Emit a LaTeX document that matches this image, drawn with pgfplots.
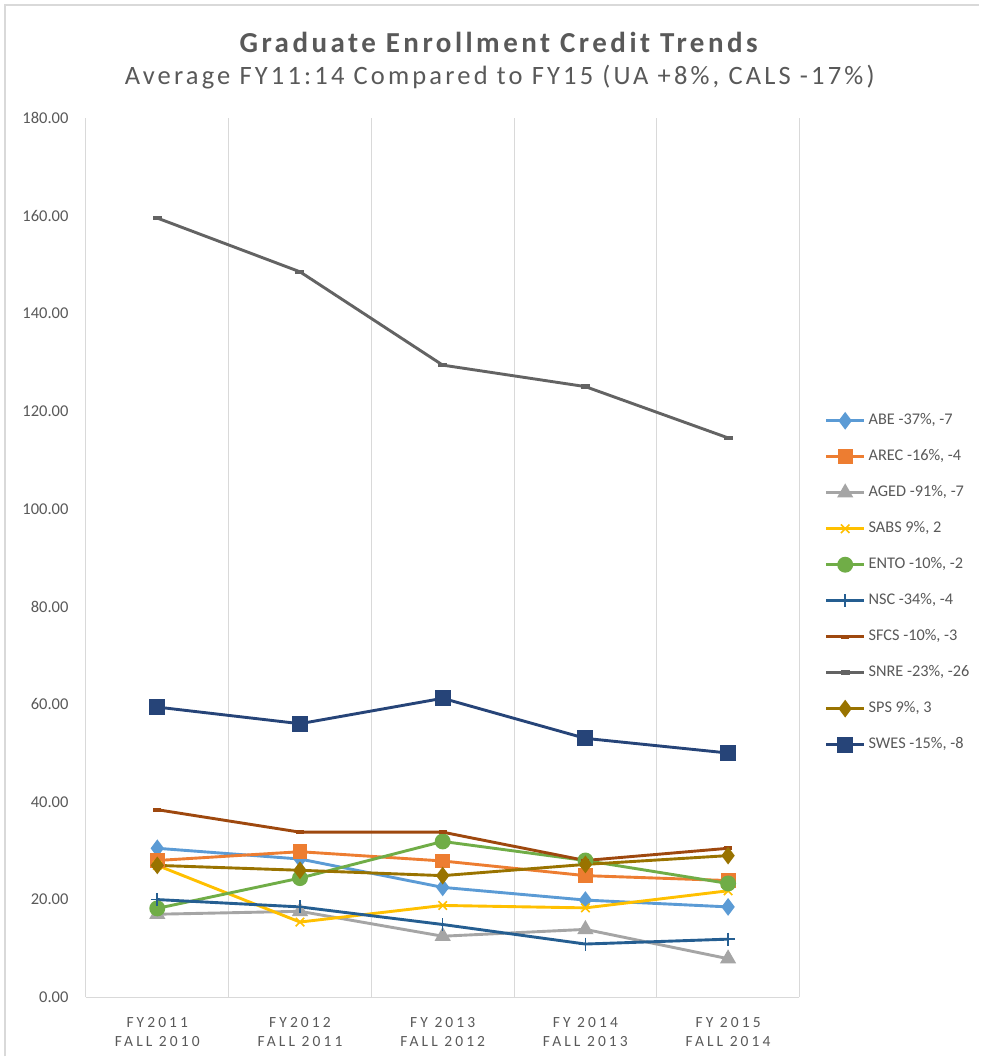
\documentclass[border=0pt]{standalone}
\usepackage{fontspec}
\setmainfont{Carlito}
\newfontfamily\spacedfont[LetterSpace=20]{Carlito}
\newfontfamily\titlefont[LetterSpace=12]{Carlito}
\usepackage{pgfplots}
\pgfplotsset{compat=1.18}

\definecolor{txtgray}{HTML}{595959}
\definecolor{gridgray}{HTML}{D9D9D9}
\definecolor{cABE}{HTML}{5B9BD5}
\definecolor{cAREC}{HTML}{ED7D31}
\definecolor{cAGED}{HTML}{A5A5A5}
\definecolor{cSABS}{HTML}{FFC000}
\definecolor{cENTO}{HTML}{70AD47}
\definecolor{cNSC}{HTML}{255E91}
\definecolor{cSFCS}{HTML}{9E480E}
\definecolor{cSNRE}{HTML}{636363}
\definecolor{cSPS}{HTML}{997300}
\definecolor{cSWES}{HTML}{264478}

\begin{document}
\begin{tikzpicture}[x=1pt,y=1pt]
\fill[white] (0,0) rectangle (980,1057);
\draw[gridgray, line width=1.5pt] (5,0) -- (5,1052) -- (980,1052);
\node[font=\fontsize{29}{33}\selectfont\bfseries\titlefont, text=txtgray] at (499,1015) {Graduate Enrollment Credit Trends};
\node[font=\fontsize{26.5}{30}\selectfont\titlefont, text=txtgray] at (500,980) {Average FY11:14 Compared to FY15 (UA +8\%, CALS -17\%)};
\begin{axis}[
    at={(86pt,59pt)}, anchor=south west,
    scale only axis, width=714pt, height=880pt,
    xmin=-0.5, xmax=4.5, ymin=0, ymax=180,
    xtick={0,1,2,3,4},
    xticklabels={{FY2011\\FALL 2010},{FY2012\\FALL 2011},{FY 2013\\FALL 2012},{FY 2014\\FALL 2013},{FY 2015\\FALL 2014}},
    xticklabel style={align=center, font=\fontsize{15.5}{19}\selectfont\spacedfont, text=txtgray},
    ytick={0,20,...,180},
    yticklabel style={font=\fontsize{16.5}{19}\selectfont, text=txtgray},
    /pgf/number format/assume math mode=true,
    /pgf/number format/.cd, fixed, zerofill, precision=2, /pgfplots/.cd,
    major tick length=0pt, minor tick length=0pt,
    minor xtick={0.5,1.5,2.5,3.5,4.5},
    xminorgrids, minor grid style={gridgray, line width=1pt},
    axis x line*=bottom, axis y line*=left,
    axis line style={gridgray, line width=1pt, -},
    xticklabel shift=17pt, yticklabel shift=14pt,
    clip=false,
    every axis plot/.append style={line width=2.9pt, mark options={solid}},
    legend style={at={(1.031,0.666)}, anchor=north west, draw=none, fill=none,
        font=\fontsize{16.3}{19}\selectfont, text=txtgray,
        nodes={inner sep=0pt, text height=11pt, text depth=3pt},
        row sep=22pt, column sep=3pt},
    legend cell align=left,
    legend image code/.code={\draw[mark repeat=2,mark phase=2,#1] plot coordinates {(0pt,0pt) (19pt,0pt) (38pt,0pt)};},
]
\addplot[cABE, mark=diamond*, mark size=6.5pt] coordinates {(0,30.5) (1,28.3) (2,22.5) (3,19.9) (4,18.5)};
\addlegendentry{ABE -37\%, -7}
\addplot[cAREC, mark=square*, mark size=6pt] coordinates {(0,28.0) (1,29.8) (2,27.9) (3,24.9) (4,23.9)};
\addlegendentry{AREC -16\%, -4}
\addplot[cAGED, mark=triangle*, mark size=6.5pt] coordinates {(0,17.0) (1,17.6) (2,12.5) (3,13.9) (4,7.9)};
\addlegendentry{AGED -91\%, -7}
\addplot[cSABS, mark=x, mark size=6pt, mark options={line width=1.6pt}] coordinates {(0,27.0) (1,15.4) (2,18.8) (3,18.3) (4,21.8)};
\addlegendentry{SABS 9\%, 2}
\addplot[cENTO, mark=*, mark size=6.5pt] coordinates {(0,18.2) (1,24.4) (2,31.9) (3,28.0) (4,23.3)};
\addlegendentry{ENTO -10\%, -2}
\addplot[cNSC, mark=+, mark size=6.5pt, mark options={line width=1.6pt}] coordinates {(0,20.0) (1,18.5) (2,14.9) (3,10.9) (4,11.9)};
\addlegendentry{NSC -34\%, -4}
\addplot[cSFCS, mark=-, mark size=4pt, mark options={line width=4pt}] coordinates {(0,38.4) (1,33.8) (2,33.8) (3,28.0) (4,30.5)};
\addlegendentry{SFCS -10\%, -3}
\addplot[cSNRE, mark=-, mark size=4.5pt, mark options={line width=4.5pt}] coordinates {(0,159.5) (1,148.5) (2,129.4) (3,125.0) (4,114.5)};
\addlegendentry{SNRE -23\%, -26}
\addplot[cSPS, mark=diamond*, mark size=6.5pt] coordinates {(0,27.0) (1,26.0) (2,24.9) (3,27.2) (4,29.0)};
\addlegendentry{SPS 9\%, 3}
\addplot[cSWES, mark=square*, mark size=6.5pt] coordinates {(0,59.4) (1,56.0) (2,61.2) (3,53.0) (4,50.0)};
\addlegendentry{SWES -15\%, -8}
\end{axis}
\end{tikzpicture}
\end{document}
